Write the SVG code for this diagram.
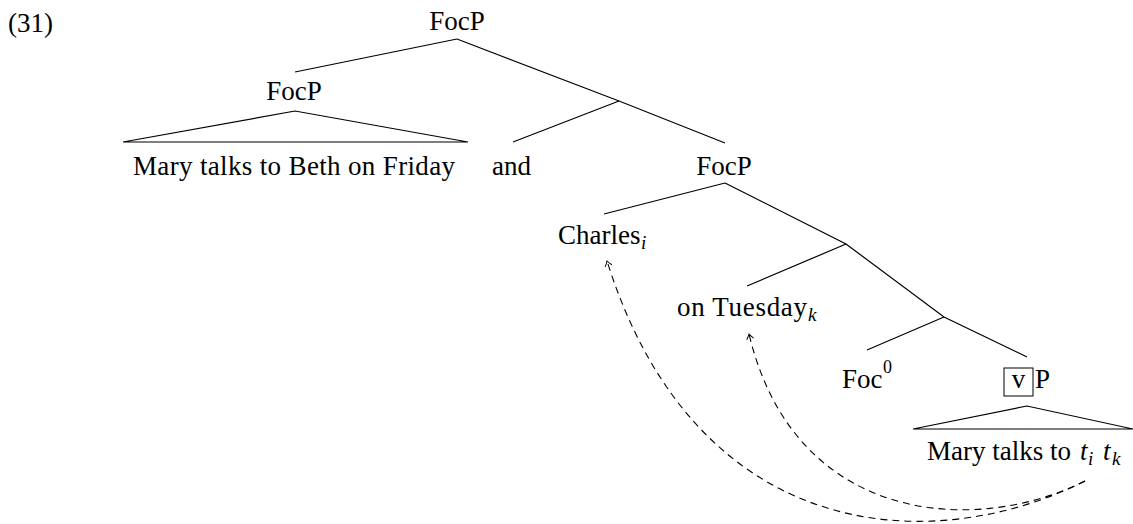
<svg xmlns="http://www.w3.org/2000/svg" width="1133" height="524" viewBox="0 0 1133 524">
<style>
text{font-family:"Liberation Serif","Times New Roman",serif;font-size:27px;fill:#000}
.sub{font-size:19px;font-style:italic}
.it{font-style:italic}
.sup{font-size:18px}
.ln{stroke:#000;stroke-width:1.2;fill:none}
.tri{stroke:#000;stroke-width:1.2;fill:none;stroke-linejoin:miter}
.mv{stroke:#000;stroke-width:1.1;fill:none;stroke-dasharray:7 5}
</style>
<defs>
<marker id="arr" viewBox="-7 -5 8 10" refX="0" refY="0" markerWidth="8" markerHeight="10" markerUnits="userSpaceOnUse" orient="auto">
<path d="M -5 -3.5 Q -2 -1 0 0 Q -2 1 -5 3.5" stroke="#000" stroke-width="1" fill="none"/>
</marker>
</defs>
<rect width="1133" height="524" fill="#fff"/>
<g id="label"><text x="8" y="32">(31)</text></g>
<g id="root"><text x="457" y="30" text-anchor="middle">FocP</text></g>
<g id="focp-left"><text x="294" y="100" text-anchor="middle">FocP</text>
<polygon class="tri" points="295,111 123,142 468,142"/>
<text x="133" y="175" textLength="322" lengthAdjust="spacing">Mary talks to Beth on Friday</text></g>
<g id="and"><text x="492" y="175">and</text></g>
<g id="focp-right"><text x="724" y="175" text-anchor="middle">FocP</text></g>
<g id="charles"><text x="558" y="244">Charles</text><text class="sub" x="641" y="249">i</text></g>
<g id="tuesday"><text x="677" y="316" textLength="130" lengthAdjust="spacing">on Tuesday</text><text class="sub" x="808" y="321">k</text></g>
<g id="foc0"><text x="842" y="388">Foc</text><text class="sup" x="883" y="373">0</text></g>
<g id="vp"><rect x="1004" y="368" width="29" height="28" fill="none" stroke="#000" stroke-width="1"/>
<text x="1018.5" y="388" text-anchor="middle">v</text><text x="1035" y="388">P</text>
<polygon class="tri" points="1027,406 913,429 1133,429"/>
<text x="927" y="460" textLength="144" lengthAdjust="spacing">Mary talks to</text>
<text class="it" x="1080" y="460">t</text><text class="sub" x="1088" y="465">i</text>
<text class="it" x="1103" y="460">t</text><text class="sub" x="1112" y="465">k</text></g>
<g id="connectors">
<line class="ln" x1="457" y1="39" x2="295" y2="72"/>
<polyline class="ln" points="457,39 619,101 725,143"/>
<line class="ln" x1="619" y1="101" x2="513" y2="142"/>
<line class="ln" x1="725" y1="183" x2="604" y2="214"/>
<polyline class="ln" points="725,183 846,244 944,317 1027,357"/>
<line class="ln" x1="846" y1="244" x2="747" y2="286"/>
<line class="ln" x1="944" y1="317" x2="867" y2="350"/>
<path class="mv" d="M 1085 481 C 934 557 697 547 607 261" marker-end="url(#arr)"/>
<path class="mv" d="M 1085 481 C 978 535 795 527 749 334" marker-end="url(#arr)"/>
</g>
</svg>
